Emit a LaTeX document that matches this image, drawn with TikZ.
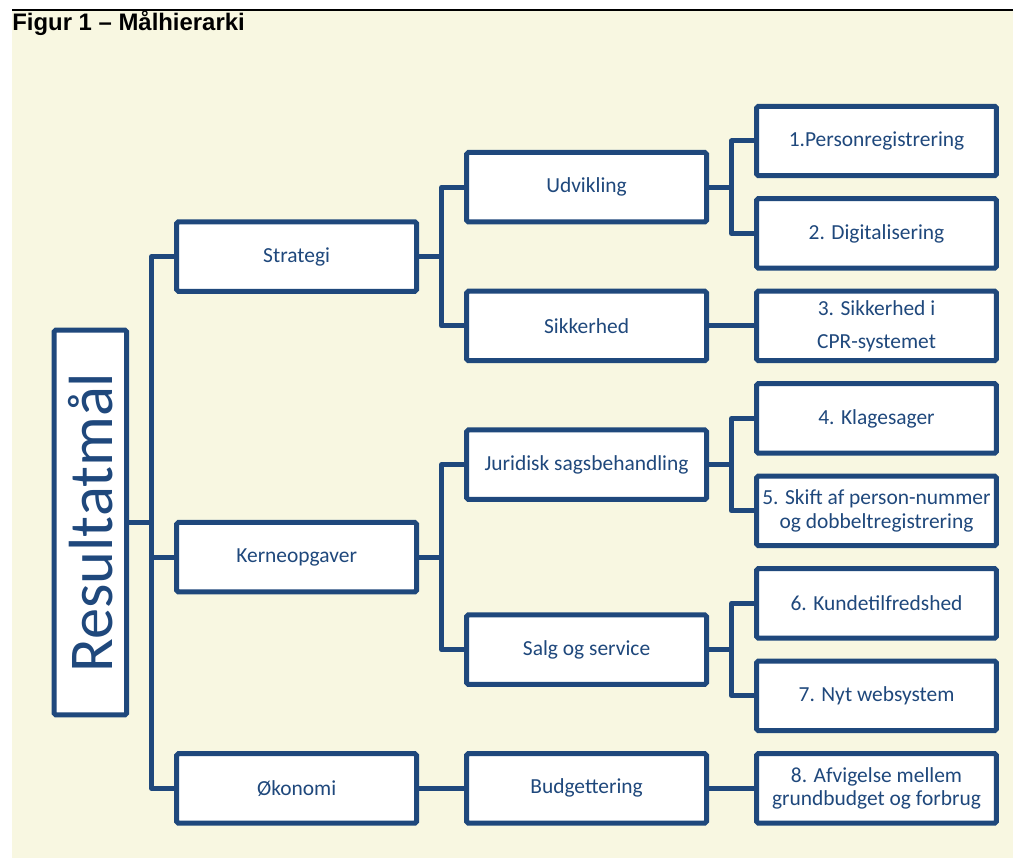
\documentclass[tikz,border=0pt]{standalone}
\usepackage{fontspec}
\setmainfont{Carlito}
\newfontfamily\titlefont{Liberation Sans}
\usepackage{tikz}
\usetikzlibrary{positioning, calc}
\definecolor{hblue}{RGB}{31,72,124}
\definecolor{cream}{RGB}{248,247,225}
\tikzset{
  box/.style={rectangle, rounded corners=1pt, minimum width=4.8cm, minimum height=1.39cm, align=center, draw=hblue, fill=white, line width=0.1cm, text=hblue, font=\fontsize{12.2}{13.6}\selectfont, inner sep=2pt},
  rootbox/.style={box, minimum width=1.45cm, minimum height=7.7cm, font=\fontsize{35.5}{40}\selectfont},
  link/.style={line width=0.1cm, draw=hblue, line join=round}
}
\begin{document}
\begin{tikzpicture}[x=0.02cm, y=-0.02cm, node distance=0.36cm]
    \useasboundingbox (0,0) rectangle (1013,858);
    \fill [cream] (12,10) rectangle (1013,858);
    \draw [black, line width=0.6pt] (12,10) -- (1013,10);
    \node (title) [anchor=base west, inner sep=0pt, font=\titlefont\bfseries\fontsize{13.6}{16}\selectfont] at (12,31) {Figur 1 – Målhierarki};

    % Niveau 3
    \node (p1) [box] at (876.5,141) {1.Personregistrering};
    \node (p2) [box, below=of p1] {2. Digitalisering};
    \node (p3) [box, below=of p2] {3. Sikkerhed i\\[5pt]CPR-systemet};
    \node (p4) [box, below=of p3] {4. Klagesager};
    \node (p5) [box, below=of p4] {5. Skift af person-nummer\\og dobbeltregistrering};
    \node (p6) [box, below=of p5] {6. Kundetilfredshed};
    \node (p7) [box, below=of p6] {7. Nyt websystem};
    \node (p8) [box, below=of p7] {8. Afvigelse mellem\\grundbudget og forbrug};

    % Niveau 2
    \coordinate (m12) at ($(p1.west)!0.5!(p2.west)$);
    \coordinate (m45) at ($(p4.west)!0.5!(p5.west)$);
    \coordinate (m67) at ($(p6.west)!0.5!(p7.west)$);
    \node (udv) [box, left=0.9cm of m12] {Udvikling};
    \node (sik) [box, left=0.9cm of p3] {Sikkerhed};
    \node (jur) [box, left=0.9cm of m45] {Juridisk sagsbehandling};
    \node (salg) [box, left=0.9cm of m67] {Salg og service};
    \node (bud) [box, left=0.9cm of p8] {Budgettering};

    % Niveau 1
    \coordinate (ms) at ($(udv.west)!0.5!(sik.west)$);
    \coordinate (mk) at ($(jur.west)!0.5!(salg.west)$);
    \node (strat) [box, left=0.9cm of ms] {Strategi};
    \node (kern) [box, left=0.9cm of mk] {Kerneopgaver};
    \node (oko) [box, left=0.9cm of bud] {Økonomi};

    % Rod
    \coordinate (mr) at ($(strat.west)!0.5!(oko.west)$);
    \node (res) [rootbox, left=0.9cm of mr] {\rotatebox{90}{Resultatmål}};

    % Forbindelser fra rod
    \draw [link] (res.east) -- ++(22.5,0) coordinate (r0);
    \draw [link] (strat.west) -| (r0) |- (oko.west);
    \draw [link] (r0) |- (kern.west);

    % Strategi
    \draw [link] (strat.east) -- ++(22.5,0) coordinate (s0);
    \draw [link] (udv.west) -| (s0) |- (sik.west);
    \draw [link] (udv.east) -- ++(22.5,0) coordinate (u0);
    \draw [link] (p1.west) -| (u0) |- (p2.west);
    \draw [link] (sik.east) -- (p3.west);

    % Kerneopgaver
    \draw [link] (kern.east) -- ++(22.5,0) coordinate (k0);
    \draw [link] (jur.west) -| (k0) |- (salg.west);
    \draw [link] (jur.east) -- ++(22.5,0) coordinate (j0);
    \draw [link] (p4.west) -| (j0) |- (p5.west);
    \draw [link] (salg.east) -- ++(22.5,0) coordinate (g0);
    \draw [link] (p6.west) -| (g0) |- (p7.west);

    % Økonomi
    \draw [link] (oko.east) -- (bud.west);
    \draw [link] (bud.east) -- (p8.west);

\end{tikzpicture}
\end{document}
